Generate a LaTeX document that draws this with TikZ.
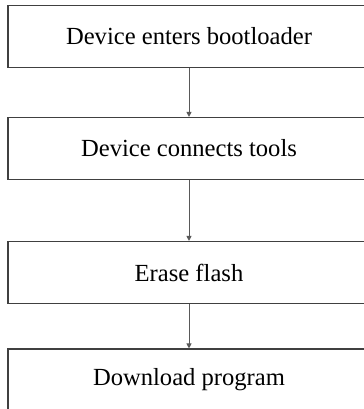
\documentclass[tikz,border=0pt]{standalone}
\usepackage{fontspec}
\setmainfont{Liberation Serif}
\usetikzlibrary{arrows.meta}
\begin{document}
\begin{tikzpicture}[x=1bp,y=-1bp,
  stepbox/.style={draw=black!75,line width=1.1bp,minimum width=362bp,minimum height=62bp,inner sep=0pt,
    font=\fontsize{24.6bp}{28bp}\selectfont,anchor=center},
  conn/.style={draw=black!65,line width=1bp,-{Triangle[length=5bp,width=5bp]}}]
\useasboundingbox (0,0) rectangle (364,409);
\node[stepbox] (b1) at (189,36.5) {Device enters bootloader};
\node[stepbox] (b2) at (189,148.5) {Device connects tools};
\node[stepbox] (b3) at (189,272.5) {Erase flash};
\node[stepbox] (b4) at (189,380) {Download program};
\draw[conn] (b1) -- (b2);
\draw[conn] (b2) -- (b3);
\draw[conn] (b3) -- (b4);
\end{tikzpicture}
\end{document}
